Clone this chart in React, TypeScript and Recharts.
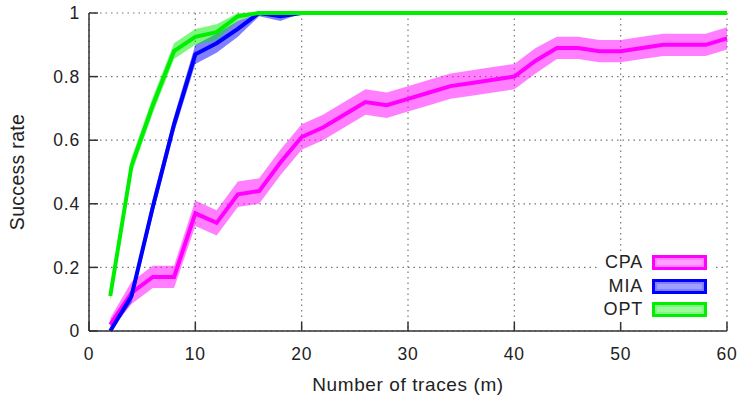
import React from 'react';
import {
  ComposedChart,
  Area,
  Line,
  XAxis,
  YAxis,
  CartesianGrid,
  Legend,
} from 'recharts';

// number of traces m
const traces = [2, 4, 6, 8, 10, 12, 14, 16, 18, 20, 22, 24, 26, 28, 30, 32, 34, 36, 38, 40, 42, 44, 46, 48, 50, 52, 54, 56, 58, 60];

// success rates
const cpaRate = [0.02, 0.12, 0.17, 0.17, 0.37, 0.34, 0.43, 0.44, 0.53, 0.61, 0.64, 0.68, 0.72, 0.71, 0.73, 0.75, 0.77, 0.78, 0.79, 0.8, 0.85, 0.89, 0.89, 0.88, 0.88, 0.89, 0.9, 0.9, 0.9, 0.92];
const miaRate = [0.0, 0.11, 0.39, 0.65, 0.87, 0.905, 0.95, 1, 0.99, 1, 1, 1, 1, 1, 1, 1, 1, 1, 1, 1, 1, 1, 1, 1, 1, 1, 1, 1, 1, 1];
const optRate = [0.11, 0.52, 0.71, 0.88, 0.925, 0.94, 0.99, 1, 1, 1, 1, 1, 1, 1, 1, 1, 1, 1, 1, 1, 1, 1, 1, 1, 1, 1, 1, 1, 1, 1];

// half width of the shaded band around each curve
const cpaSpread = [0.02, 0.035, 0.035, 0.035, 0.04, 0.04, 0.04, 0.04, 0.04, 0.04, 0.04, 0.04, 0.04, 0.04, 0.04, 0.04, 0.04, 0.04, 0.04, 0.04, 0.04, 0.035, 0.035, 0.035, 0.035, 0.035, 0.035, 0.035, 0.035, 0.035];
const miaSpread = [0.0, 0.02, 0.025, 0.025, 0.03, 0.03, 0.025, 0.01, 0.015, 0, 0, 0, 0, 0, 0, 0, 0, 0, 0, 0, 0, 0, 0, 0, 0, 0, 0, 0, 0, 0];
const optSpread = [0.015, 0.025, 0.025, 0.025, 0.025, 0.025, 0.015, 0, 0, 0, 0, 0, 0, 0, 0, 0, 0, 0, 0, 0, 0, 0, 0, 0, 0, 0, 0, 0, 0, 0];

const xTicks = [0, 10, 20, 30, 40, 50, 60];
const yTicks = [0, 0.2, 0.4, 0.6, 0.8, 1];

const SERIES = [
  { key: 'cpa', name: 'CPA', color: '#ff00ff', values: cpaRate, spread: cpaSpread },
  { key: 'mia', name: 'MIA', color: '#0000ff', values: miaRate, spread: miaSpread },
  { key: 'opt', name: 'OPT', color: '#00ee00', values: optRate, spread: optSpread },
];

const data = traces.map((m, i) => {
  const row: Record<string, any> = { m };
  SERIES.forEach((s) => {
    const v = s.values[i];
    const d = s.spread[i];
    row[s.key] = v;
    row[s.key + 'Band'] = [Math.max(0, v - d), Math.min(1, v + d)];
  });
  return row;
});

const FONT = '"Liberation Sans", Arial, Helvetica, sans-serif';
const AXIS = '#333333';

const fmtY = (v: number) => (v === 0 || v === 1 ? String(v) : v.toFixed(1));

function KeyBox() {
  return (
    <div style={{ background: '#fff', width: 116, padding: 0 }}>
      {SERIES.map((s) => (
        <div
          key={s.key}
          style={{ display: 'flex', alignItems: 'center', height: 23.6 }}
        >
          <span
            style={{
              width: 45,
              textAlign: 'right',
              fontSize: 18,
              color: '#222',
              letterSpacing: '0.8px',
            }}
          >
            {s.name}
          </span>
          <span
            style={{
              marginLeft: 9,
              width: 55,
              height: 15,
              boxSizing: 'border-box',
              border: `3px solid ${s.color}`,
              background: s.color + '80',
              display: 'flex',
              alignItems: 'center',
              justifyContent: 'center',
            }}
          >
            <span style={{ width: 45, height: 5, background: '#ffffff40' }} />
          </span>
        </div>
      ))}
    </div>
  );
}

export default function App() {
  return (
    <div
      style={{
        position: 'absolute',
        left: 0,
        top: 0,
        fontFamily: FONT,
        background: '#fff',
        letterSpacing: '0.8px',
      }}
    >
      <ComposedChart
        width={740}
        height={401}
        data={data}
        margin={{ top: 13, right: 13, left: 0, bottom: 0 }}
      >
        <XAxis
          dataKey="m"
          type="number"
          domain={[0, 60]}
          ticks={xTicks}
          height={70}
          stroke={AXIS}
          strokeWidth={1.5}
          tickSize={-9}
          tickMargin={26}
          tick={{ fill: '#222', fontSize: 17.5, fontFamily: FONT }}
          label={{
            value: 'Number of traces (m)',
            position: 'insideBottom',
            offset: 10,
            style: { fill: '#222', fontSize: 19, fontFamily: FONT, letterSpacing: '0.6px' },
          }}
        />
        <XAxis
          xAxisId="top"
          dataKey="m"
          type="number"
          orientation="top"
          domain={[0, 60]}
          ticks={xTicks}
          height={0}
          stroke={AXIS}
          strokeWidth={1.5}
          tickSize={-9}
          tickFormatter={() => ''}
        />
        <YAxis
          type="number"
          domain={[0, 1]}
          ticks={yTicks}
          width={89}
          stroke={AXIS}
          strokeWidth={1.5}
          tickSize={-9}
          tickMargin={18}
          tickFormatter={fmtY}
          tick={{ fill: '#222', fontSize: 17.5, fontFamily: FONT }}
          label={{
            value: 'Success rate',
            angle: -90,
            position: 'insideLeft',
            offset: 17,
            style: { fill: '#222', fontSize: 19.5, fontFamily: FONT, textAnchor: 'middle', letterSpacing: '0.3px' },
          }}
        />
        <YAxis
          yAxisId="right"
          type="number"
          orientation="right"
          domain={[0, 1]}
          ticks={yTicks}
          width={0}
          stroke={AXIS}
          strokeWidth={1.5}
          tickSize={-9}
          tickFormatter={() => ''}
        />
        <CartesianGrid
          xAxisId={0}
          yAxisId={0}
          stroke="#777"
          strokeWidth={1.2}
          strokeDasharray="1.5 4"
        />
        {SERIES.map((s) => (
          <Area
            key={s.key + 'Band'}
            type="linear"
            dataKey={s.key + 'Band'}
            stroke="none"
            fill={s.color}
            fillOpacity={0.5}
            isAnimationActive={false}
            legendType="none"
          />
        ))}
        {SERIES.map((s) => (
          <Line
            key={s.key}
            type="linear"
            dataKey={s.key}
            name={s.name}
            stroke={s.color}
            strokeWidth={4}
            dot={false}
            activeDot={false}
            isAnimationActive={false}
          />
        ))}
        <Legend
          layout="vertical"
          align="center"
          verticalAlign="middle"
          content={() => <KeyBox />}
          wrapperStyle={{ position: 'absolute', left: 598, top: 251, width: 116, height: 71 }}
        />
      </ComposedChart>
    </div>
  );
}
